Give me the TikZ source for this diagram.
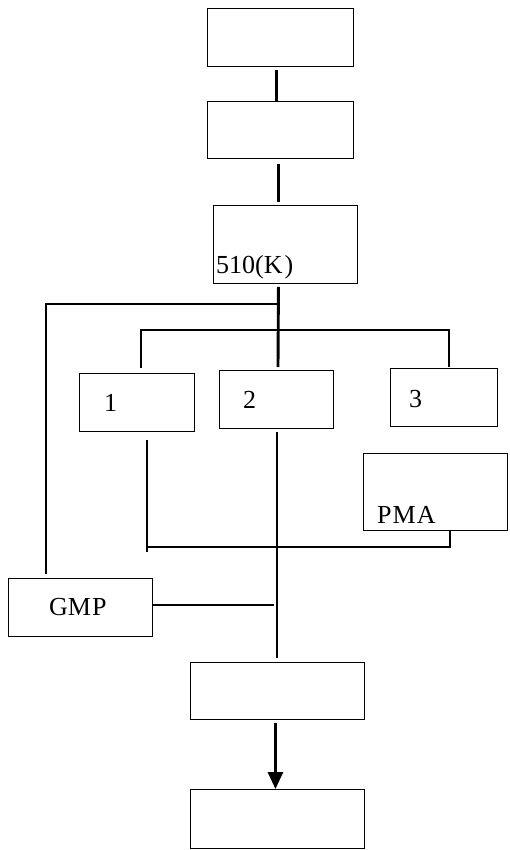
\documentclass[tikz,border=0pt]{standalone}
\usepackage{fontspec}
\setmainfont{Liberation Serif}
\usetikzlibrary{arrows.meta}
\begin{document}
\begin{tikzpicture}[x=1pt,y=1pt,
  box/.style={draw, line width=0.9pt, anchor=north west, inner sep=0pt},
  conn/.style={line width=2.9pt},
  lbl/.style={anchor=base west, inner sep=0pt, font=\fontsize{26}{30}\selectfont}]
\useasboundingbox (0,0) rectangle (509,-850);
\fill[white] (0,0) rectangle (509,-850);

% boxes
\node[box, minimum width=146pt, minimum height=58pt] (A) at (207,-8) {};
\node[box, minimum width=146pt, minimum height=57pt] (B) at (207,-101) {};
\node[box, minimum width=144pt, minimum height=78pt] (C) at (213,-205) {};
\node[box, minimum width=115pt, minimum height=58pt] (b1) at (79,-373) {};
\node[box, minimum width=114pt, minimum height=58pt] (b2) at (219,-370) {};
\node[box, minimum width=107pt, minimum height=58pt] (b3) at (390,-368) {};
\node[box, minimum width=144pt, minimum height=77pt] (pma) at (363,-453) {};
\node[box, minimum width=144pt, minimum height=58pt] (gmp) at (8,-578) {};
\node[box, minimum width=174pt, minimum height=57pt] (D) at (190,-662) {};
\node[box, minimum width=174pt, minimum height=59pt] (E) at (190,-789) {};

% labels
\node[lbl] (t510) at (216,-273) {510(K\kern2pt)};
\node[lbl] (t1) at (104,-411) {1};
\node[lbl] (t2) at (243,-408) {2};
\node[lbl] (t3) at (409,-407) {3};
\node[lbl] (tpma) at (377,-523) {P\kern1pt M\kern1pt A};
\node[lbl] (tgmp) at (49,-615) {GM\kern1pt P};

% junction points
\coordinate (jtop) at (278,-304);
\coordinate (jmid) at (278,-330);
\coordinate (jl) at (141,-330);
\coordinate (jr) at (449,-330);
\coordinate (jlow) at (277,-547);
\coordinate (jg) at (277,-605);

% connectors
\draw[conn] ([xshift=-4pt,yshift=-3pt]A.south) -- ([xshift=-4pt]B.north);
\draw[conn] ([xshift=-2pt,yshift=-5pt]B.south) -- ([xshift=-2pt,yshift=3pt]B.south |- C.north);
\draw[conn] ([xshift=-7pt,yshift=-3pt]C.south) -- (278,-367);
\draw[conn] ([xshift=2pt]jtop) -- (46,-304) -- ([yshift=4pt]gmp.north -| 46,0);
\draw[conn] (141,-368) -- (jl) -- (jr) -- (449,-367);
\draw[conn] (147,-440) -- (147,-552);
\draw[conn] (147,-547) -- (jlow) -- (450,-547) -- (450,-530);
\draw[conn] ([yshift=-3pt]b2.south -| jlow) -- ([yshift=4pt]D.north -| jlow);
\draw[conn] (gmp.east |- jg) -- ([xshift=-3pt]jg);
\draw[conn, -{Triangle[width=15pt,length=17pt]}] ([xshift=-2pt,yshift=-3pt]D.south) -- ([xshift=-2pt]E.north);
\end{tikzpicture}
\end{document}
